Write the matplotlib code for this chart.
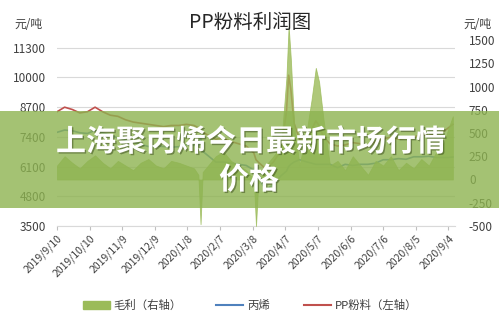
import matplotlib
matplotlib.use("Agg")
import matplotlib.pyplot as plt
import matplotlib.patheffects as pe
from matplotlib.patches import Rectangle, Patch
from matplotlib.lines import Line2D
import pandas as pd

plt.rcParams['font.family'] = ['Noto Sans CJK SC', 'DejaVu Sans']

dates = ["2019-09-10", "2019-09-17", "2019-09-24", "2019-10-01", "2019-10-08", "2019-10-15",
         "2019-10-22", "2019-10-29", "2019-11-05", "2019-11-12", "2019-11-19", "2019-11-26",
         "2019-12-03", "2019-12-10", "2019-12-17", "2019-12-24", "2019-12-31", "2020-01-07",
         "2020-01-14", "2020-01-18", "2020-01-20", "2020-01-22", "2020-02-03", "2020-02-10",
         "2020-02-17", "2020-02-24", "2020-03-02", "2020-03-09", "2020-03-11", "2020-03-13",
         "2020-03-20", "2020-03-27", "2020-04-03", "2020-04-08", "2020-04-10", "2020-04-12",
         "2020-04-15", "2020-04-20", "2020-04-27", "2020-05-01", "2020-05-05", "2020-05-08",
         "2020-05-12", "2020-05-18", "2020-05-25", "2020-06-01", "2020-06-08", "2020-06-15",
         "2020-06-22", "2020-06-29", "2020-07-06", "2020-07-13", "2020-07-20", "2020-07-27",
         "2020-08-03", "2020-08-10", "2020-08-17", "2020-08-24", "2020-08-31", "2020-09-04",
         "2020-09-08"]

profit = [150, 250, 180, 120, 200, 260, 180, 120, 200, 150,
          100, 180, 220, 150, 120, 200, 180, 150, 120, 50,
          -480, 80, 250, 300, 200, 150, 100, 0, -500, -50,
          150, 250, 350, 1100, 1650, 1300, 600, 150, 550, 850,
          1200, 1050, 650, 150, 200, 100, 250, 150, 50, 200,
          150, 250, 100, 180, 120, 220, 150, 300, 400, 550,
          680]

pp_powder = [8500, 8700, 8600, 8450, 8500, 8700, 8500, 8350, 8300, 8150,
             8050, 8000, 7950, 7900, 7850, 7900, 7900, 7950, 7900, 7800,
             7700, 7600, 7300, 7350, 7200, 7100, 7000, 6700, 6400, 6300,
             6000, 6300, 6800, 8500, 10100, 9500, 8000, 7300, 7400, 7700,
             8100, 7900, 7400, 7100, 7000, 7050, 7150, 7100, 7000, 7200,
             7300, 7400, 7300, 7350, 7400, 7500, 7450, 7550, 7650, 7800,
             7950]

propylene = [7600, 7700, 7670, 7580, 7550, 7690, 7570, 7480, 7350, 7250,
             7200, 7070, 6980, 7000, 6980, 6950, 6970, 7050, 7030, 7000,
             7430, 6770, 6300, 6300, 6250, 6200, 6150, 5950, 6150, 5600,
             5100, 5300, 5700, 5900, 6100, 6200, 6300, 6400, 6300, 6250,
             6200, 6200, 6200, 6200, 6050, 6200, 6150, 6200, 6200, 6250,
             6400, 6400, 6450, 6420, 6530, 6530, 6550, 6500, 6500, 6500,
             6520]

tick_dates = ["2019-09-10", "2019-10-10", "2019-11-09", "2019-12-09", "2020-01-08",
              "2020-02-07", "2020-03-08", "2020-04-07", "2020-05-07", "2020-06-06",
              "2020-07-06", "2020-08-05", "2020-09-04"]
tick_labels = ["2019/9/10", "2019/10/10", "2019/11/9", "2019/12/9", "2020/1/8",
               "2020/2/7", "2020/3/8", "2020/4/7", "2020/5/7", "2020/6/6",
               "2020/7/6", "2020/8/5", "2020/9/4"]
left_ticks = [3500, 4800, 6100, 7400, 8700, 10000, 11300]
right_ticks = [-500, -250, 0, 250, 500, 750, 1000, 1250, 1500]

x = pd.to_datetime(dates)
W, H = 499, 321
fig = plt.figure(figsize=(W / 100, H / 100), dpi=100)
ax = fig.add_axes([57 / W, 1 - 226 / H, (455 - 57) / W, (226 - 40) / H])
ax2 = ax.twinx()

green = '#9bbb59'
blue = '#4f81bd'
red = '#c0504d'
txt = '#404040'

ax.plot(x, pp_powder, color=red, lw=1.2, zorder=3)
ax.plot(x, propylene, color=blue, lw=1.2, zorder=3)
ax2.fill_between(x, 0, profit, color=green, alpha=0.8, lw=0.6, edgecolor=green, clip_on=False)

ax.set_xlim(pd.Timestamp("2019-09-10"), pd.Timestamp("2020-09-10"))
ax.set_ylim(3500, 11641)
ax2.set_ylim(-500, 1500)
ax.set_yticks(left_ticks)
ax.set_yticklabels([str(v) for v in left_ticks])
ax2.set_yticks(right_ticks)
ax2.set_yticklabels([str(v) for v in right_ticks])
ax.set_xticks(pd.to_datetime(tick_dates))
ax.set_xticklabels(tick_labels, rotation=45, ha='right', rotation_mode='anchor')

ax.grid(axis='y', color='#d9d9d9', lw=0.8)
ax.set_axisbelow(True)
for a in (ax, ax2):
    for s in ('top', 'left', 'right'):
        a.spines[s].set_visible(False)
    a.spines['bottom'].set_color('#d9d9d9')
ax2.spines['bottom'].set_visible(False)
ax.tick_params(axis='x', colors=txt, labelsize=7.5, length=3, color='#bfbfbf', pad=2)
ax.tick_params(axis='y', colors=txt, labelsize=8.5, length=0, pad=8)
ax2.tick_params(axis='y', colors=txt, labelsize=8.5, length=0, pad=10)

fig.text(250 / W, 1 - 22 / H, "PP粉料利润图", ha='center', va='center', fontsize=14, color='#262626')
fig.text(28 / W, 1 - 25 / H, "元/吨", ha='center', va='center', fontsize=8.5, color=txt)
fig.text(477 / W, 1 - 25 / H, "元/吨", ha='center', va='center', fontsize=8.5, color=txt)

handles = [Patch(facecolor=green, edgecolor=green),
           Line2D([0], [0], color=blue, lw=1.5),
           Line2D([0], [0], color=red, lw=1.5)]
fig.legend(handles, ["毛利（右轴）", "丙烯", "PP粉料（左轴）"], loc='center',
           bbox_to_anchor=(250 / W, 1 - 305 / H), ncol=3, fontsize=8.2, frameon=False,
           columnspacing=3.0, handlelength=2.4, handletextpad=0.3, labelcolor=txt)

fig.patches.append(Rectangle((0, 1 - 208 / H), 1, (208 - 111) / H, transform=fig.transFigure,
                             facecolor='#8db350', alpha=0.8, edgecolor='none', zorder=10))
shadow = [pe.withSimplePatchShadow(offset=(1, -1), shadow_rgbFace='#2a3a10', alpha=0.45)]
fig.text(251 / W, 1 - 142 / H, "上海聚丙烯今日最新市场行情", ha='center', va='center',
         fontsize=21.6, fontweight='heavy', color='white', zorder=11, path_effects=shadow)
fig.text(249 / W, 1 - 180 / H, "价格", ha='center', va='center',
         fontsize=21.6, fontweight='heavy', color='white', zorder=11, path_effects=shadow)

fig.savefig("out.png", dpi=100)
